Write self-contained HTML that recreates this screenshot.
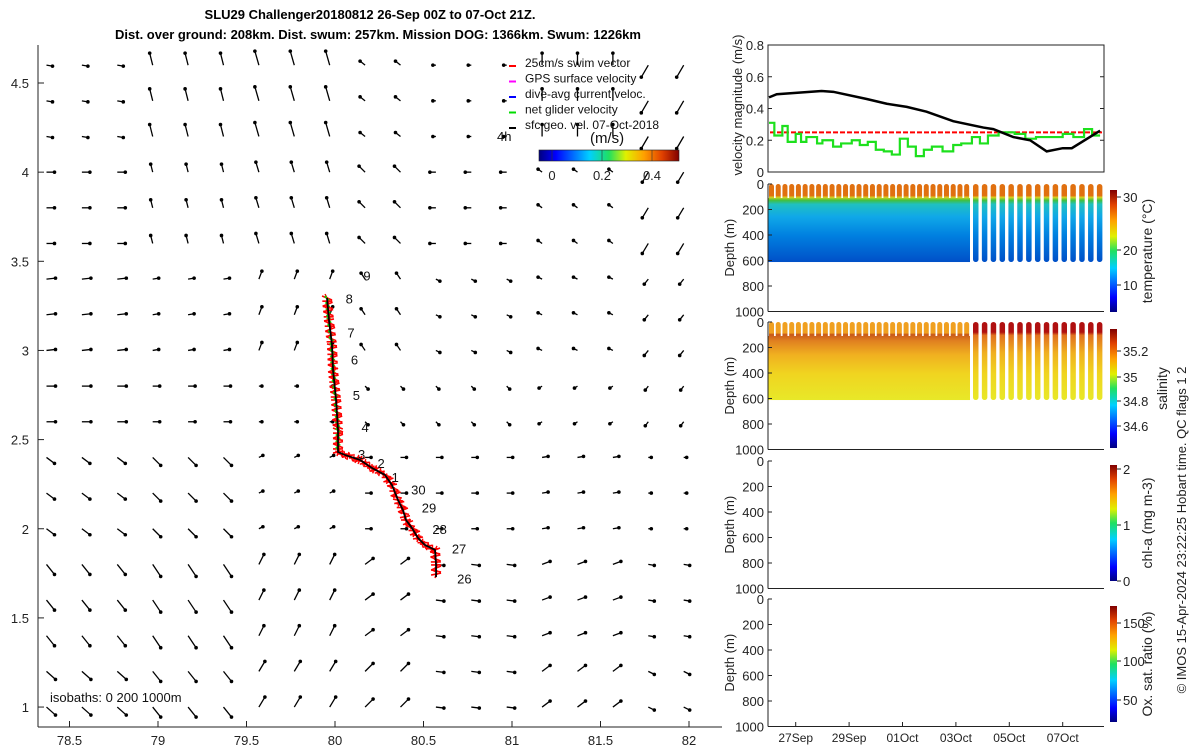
<!DOCTYPE html>
<html><head><meta charset="utf-8"><style>
body{margin:0;background:#fff;}
svg{display:block;font-family:"Liberation Sans","DejaVu Sans",sans-serif;}
</style></head><body>
<svg id="fig" width="1200" height="750" viewBox="0 0 1200 750">
<defs>
<linearGradient id="jetH" x1="0" x2="1" y1="0" y2="0">
<stop offset="0" stop-color="#00007f"/><stop offset="0.12" stop-color="#0000ff"/><stop offset="0.36" stop-color="#00d0ff"/><stop offset="0.5" stop-color="#20e060"/><stop offset="0.62" stop-color="#e0f000"/><stop offset="0.75" stop-color="#ffa000"/><stop offset="0.88" stop-color="#e04000"/><stop offset="1" stop-color="#800000"/></linearGradient>
<linearGradient id="jetV" x1="0" x2="0" y1="1" y2="0">
<stop offset="0" stop-color="#00007f"/><stop offset="0.12" stop-color="#0000ff"/><stop offset="0.36" stop-color="#00d0ff"/><stop offset="0.5" stop-color="#20e060"/><stop offset="0.62" stop-color="#e0f000"/><stop offset="0.75" stop-color="#ffa000"/><stop offset="0.88" stop-color="#e04000"/><stop offset="1" stop-color="#800000"/></linearGradient>
<linearGradient id="tempG" gradientUnits="userSpaceOnUse" x1="0" x2="0" y1="184" y2="262">
<stop offset="0" stop-color="#e07010"/><stop offset="0.15" stop-color="#e07010"/><stop offset="0.17" stop-color="#d8d020"/><stop offset="0.21" stop-color="#40c040"/><stop offset="0.26" stop-color="#20c0c0"/><stop offset="0.42" stop-color="#10a8e8"/><stop offset="0.66" stop-color="#0080e0"/><stop offset="1" stop-color="#0050c8"/></linearGradient>
<linearGradient id="salG" gradientUnits="userSpaceOnUse" x1="0" x2="0" y1="184" y2="262">
<stop offset="0" stop-color="#f0a020"/><stop offset="0.14" stop-color="#f0a020"/><stop offset="0.16" stop-color="#c85818"/><stop offset="0.24" stop-color="#e08020"/><stop offset="0.42" stop-color="#f0b020"/><stop offset="0.66" stop-color="#f0d420"/><stop offset="1" stop-color="#e8e828"/></linearGradient>
<linearGradient id="salG2" gradientUnits="userSpaceOnUse" x1="0" x2="0" y1="184" y2="262">
<stop offset="0" stop-color="#b01010"/><stop offset="0.13" stop-color="#b01010"/><stop offset="0.17" stop-color="#e07020"/><stop offset="0.4" stop-color="#f0b020"/><stop offset="0.66" stop-color="#f0d420"/><stop offset="1" stop-color="#e8e828"/></linearGradient>
</defs>

<text x="370" y="19" font-size="13" font-weight="bold" text-anchor="middle">SLU29 Challenger20180812 26-Sep 00Z to 07-Oct 21Z.</text>
<text x="378" y="39" font-size="13" font-weight="bold" text-anchor="middle">Dist. over ground: 208km. Dist. swum: 257km. Mission DOG: 1366km. Swum: 1226km</text>

<g id="map"></g>
<g id="right"></g>
</svg>
<script>
const NS="http://www.w3.org/2000/svg";
function mk(parent,tag,attrs,txt){const e=document.createElementNS(NS,tag);for(const k in attrs)e.setAttribute(k,attrs[k]);if(txt!==undefined)e.textContent=txt;parent.appendChild(e);return e;}

// ---------- MAP DATA ----------
const lonTicks=[78.5,79,79.5,80,80.5,81,81.5,82];
const latTicks=[1,1.5,2,2.5,3,3.5,4,4.5];
const trackLon=[79.955,79.966,79.983,79.989,80.006,80.017,80.017,80.056,80.141,80.209,80.282,80.322,80.356,80.384,80.401,80.435,80.469,80.508,80.565,80.571,80.571];
const trackLat=[3.294,3.171,3.031,2.890,2.722,2.554,2.430,2.414,2.386,2.341,2.302,2.245,2.161,2.105,2.049,2.004,1.948,1.909,1.881,1.797,1.729];
const dayLabels=["9","8","7","6","5","4","3","2","1","30","29","28","27","26"];
const dayLon=[80.16,80.06,80.07,80.09,80.10,80.15,80.13,80.24,80.32,80.43,80.49,80.55,80.66,80.69];
const dayLat=[3.42,3.29,3.10,2.95,2.75,2.57,2.42,2.37,2.29,2.22,2.12,2.00,1.89,1.72];
// coarse current field (u,v) in px, rows top->bottom, cols west->east
const fieldU=[[6,-3,-4,-5,-3,0,-7],[8,-2,-3,-6,-6,-4,-6],[9,6,3,-4,4,-4,-4],[9,7,3,3,3,-3,-3],[8,8,4,6,6,6,3],[8,8,5,8,8,8,6],[9,8,6,8,8,8,6]];
const fieldV=[[-1,12,14,4,0,12,-12],[0,8,10,6,0,3,-10],[1,1,8,6,-2,2,-5],[0,0,0,-3,-3,-2,-4],[-6,-8,2,0,0,1,0],[-10,-12,10,6,-1,3,-1],[-8,-10,10,8,-1,6,-3]];
const gridLon0=78.37, gridLat0=4.6, gridStep=0.2, nGrid=19;

const mx=lon=>335+(lon-80)*177;
const my=lat=>83+(4.5-lat)*178.3;
const map=document.getElementById('map');

mk(map,'line',{x1:38,y1:45,x2:38,y2:727,stroke:'#222','stroke-width':1});
mk(map,'line',{x1:38,y1:727,x2:722,y2:727,stroke:'#222','stroke-width':1});
lonTicks.forEach(v=>{const x=mx(v);
 const t=mk(map,'line',{x1:x,y1:727,x2:x,y2:721,stroke:'#222'});
 const l=mk(map,'text',{x:x,y:745,'font-size':13,'text-anchor':'middle',fill:'#222'},String(v));});
latTicks.forEach(v=>{const y=my(v);
 const t=mk(map,'line',{x1:38,y1:y,x2:44,y2:y,stroke:'#222'});
 const l=mk(map,'text',{x:29,y:y+5,'font-size':13,'text-anchor':'end',fill:'#222'},String(v));});

for(let r=0;r<nGrid;r++){for(let c=0;c<nGrid;c++){
 const lat=gridLat0-r*gridStep, lon=gridLon0+c*gridStep;
 const ri=Math.floor(r*7/nGrid), ci=Math.floor(c*7/nGrid);
 const u=fieldU[ri][ci], v=fieldV[ri][ci];
 const x=mx(lon), y=my(lat);
 const a=mk(map,'line',{x1:x,y1:y,x2:x+u,y2:y-v,stroke:'#000','stroke-width':1.3});
 
 const h=mk(map,'circle',{cx:x+u,cy:y-v,r:1.8,fill:'#000'});
 
}}

for(let i=0;i<trackLon.length-1;i++){
 const x0=mx(trackLon[i]),y0=my(trackLat[i]),x1=mx(trackLon[i+1]),y1=my(trackLat[i+1]);
 const n=Math.max(3,Math.round(Math.hypot(x1-x0,y1-y0)/3));
 for(let k=0;k<n;k++){const f=k/n,x=x0+(x1-x0)*f,y=y0+(y1-y0)*f;const s=((k*7+i*3)%5)-2;
  const c1=mk(map,'line',{x1:x-5,y1:y+s,x2:x+5,y2:y-s,stroke:'#f00','stroke-width':1.6});
  const c2=mk(map,'line',{x1:x+s,y1:y-4,x2:x-s,y2:y+4,stroke:'#f00','stroke-width':1.4});
  if(i<6&&k%2==0){const g=mk(map,'line',{x1:x-2,y1:y-2,x2:x+2,y2:y+3,stroke:'#0d0','stroke-width':2});}
 }}
const tp=trackLon.map((v,i)=>mx(v)+','+my(trackLat[i])).join(' ');
const tr=mk(map,'polyline',{points:tp,fill:'none',stroke:'#000','stroke-width':1.8});

dayLabels.forEach((d,i)=>{const t=mk(map,'text',{x:mx(dayLon[i]),y:my(dayLat[i])+5,'font-size':13,fill:'#111'},d);});

const leg=[["25cm/s swim vector","#f00"],["GPS surface velocity","#f0f"],["dive-avg current veloc.","#00f"],["net glider velocity","#0d0"],["sfc geo. vel. 07-Oct-2018","#000"]];
leg.forEach((e,i)=>{const y=62+i*15.5;
 const m=mk(map,'line',{x1:509,y1:y+4,x2:516,y2:y+4,stroke:e[1],'stroke-width':2});
 const t=mk(map,'text',{x:525,y:y+5,'font-size':12,fill:'#111'},e[0]);});
mk(map,'text',{x:497,y:141,'font-size':13,fill:'#111',},'4h');
mk(map,'text',{x:590,y:143,'font-size':15,fill:'#111',},'(m/s)');
mk(map,'rect',{x:539,y:150,width:140,height:11,fill:'url(#jetH)',stroke:'#222','stroke-width':0.6,});
[[0,552],[0.2,602],[0.4,652]].forEach(p=>{mk(map,'line',{x1:p[1],y1:150,x2:p[1],y2:161,stroke:'#333','stroke-width':0.6});
 const t=mk(map,'text',{x:p[1],y:180,'font-size':13,'text-anchor':'middle',fill:'#222'},String(p[0]));});
mk(map,'text',{x:50,y:702,'font-size':13,fill:'#111',},'isobaths: 0   200  1000m');

// ---------- RIGHT PANELS ----------
const velTicks=[0,0.2,0.4,0.6,0.8];
const blackT=[0,0.29,1.97,2.41,3.66,4.41,5.16,5.9,6.9,8.03,8.4,9.15,9.78,10.4,11.0,11.34,12.4];
const blackV=[0.47,0.49,0.51,0.505,0.46,0.43,0.41,0.38,0.32,0.28,0.27,0.22,0.20,0.13,0.15,0.15,0.26];
const greenT=[0,0.2,0.5,0.7,1.0,1.2,1.4,1.8,2.0,2.4,2.7,3.1,3.4,3.7,4.0,4.3,4.6,4.9,5.2,5.5,5.8,6.1,6.5,6.9,7.2,7.6,7.9,8.2,8.6,9.2,9.6,10.0,10.6,11.0,11.4,11.8,12.1,12.4];
const greenV=[0.31,0.23,0.29,0.19,0.24,0.19,0.22,0.18,0.20,0.16,0.18,0.20,0.17,0.19,0.14,0.13,0.11,0.21,0.16,0.10,0.14,0.16,0.13,0.17,0.18,0.22,0.18,0.23,0.25,0.24,0.21,0.22,0.22,0.24,0.22,0.27,0.23,0.23];
const swimSpeed=0.25;
const dateLabels=["27Sep","29Sep","01Oct","03Oct","05Oct","07Oct"];
const dateDays=[1,3,5,7,9,11];
const depthTicks=[0,200,400,600,800,1000];

const R=document.getElementById('right');
const X0=768,X1=1104;
const tx=d=>769+d*26.7;
const vy=v=>172-v/0.8*127;
mk(R,'rect',{x:X0,y:45,width:X1-X0,height:127,fill:'none',stroke:'#222',});
velTicks.forEach(v=>{mk(R,'line',{x1:X0,y1:vy(v),x2:X0+4,y2:vy(v),stroke:'#222'});mk(R,'line',{x1:X1,y1:vy(v),x2:X1-4,y2:vy(v),stroke:'#222'});
 const t=mk(R,'text',{x:764,y:vy(v)+5,'font-size':13,'text-anchor':'end',fill:'#222'},String(v));});
mk(R,'text',{x:0,y:0,'font-size':13,'text-anchor':'middle',fill:'#222',transform:'translate(742,105) rotate(-90)',},'velocity magnitude (m/s)');
const sw=mk(R,'line',{x1:X0+2,y1:vy(swimSpeed),x2:X1-2,y2:vy(swimSpeed),stroke:'#f00','stroke-width':2,'stroke-dasharray':'5 2'});

let gp='';greenT.forEach((t,i)=>{const x=tx(t),y=vy(greenV[i]);if(i==0)gp+=`M${x},${y}`;else gp+=`H${x}V${y}`;});gp+=`H${tx(12.4)}`;
const gl=mk(R,'path',{d:gp,fill:'none',stroke:'#1de01d','stroke-width':2.2});
const bl=mk(R,'polyline',{points:blackT.map((t,i)=>tx(t)+','+vy(blackV[i])).join(' '),fill:'none',stroke:'#000','stroke-width':2.5});


// sections (drawn in temp panel coordinates then translated)
[[0,'tempG','tempG'],[138,'salG','salG2']].forEach(s=>{
 const g=mk(R,'g',{transform:`translate(0,${s[0]})`});
 const dy=d=>184+d*0.1275;
 mk(g,'rect',{x:768,y:dy(110),width:202,height:dy(612)-dy(110),fill:`url(#${s[1]})`});
 for(let i=0;i<30;i++){mk(g,'rect',{x:769+i*6.73,y:dy(0),width:5,height:dy(130)-dy(0),rx:2.5,fill:`url(#${s[1]})`});}
 for(let i=0;i<15;i++){mk(g,'rect',{x:973+i*8.85,y:dy(0),width:5.5,height:dy(612)-dy(0),rx:2.7,fill:`url(#${s[2]})`});}
});

const panels=[{y0:184,name:'temperature',label:'temperature (°C)',cb:[190,312],cbt:[[30,197],[20,250],[10,285]],lx:1152},
 {y0:322,name:'salinity',label:'salinity',cb:[329,448],cbt:[[35.2,351],[35,377],[34.8,401],[34.6,426]],lx:1167},
 {y0:461,name:'chl-a',label:'chl-a (mg m-3)',cb:[465,581],cbt:[[2,469],[1,525],[0,581]],lx:1152},
 {y0:599,name:'oxygen',label:'Ox. sat. ratio (%)',cb:[606,722],cbt:[[150,623],[100,661],[50,700]],lx:1152}];
panels.forEach(p=>{
 const dy=d=>p.y0+d*0.1275;
 const ax=mk(R,'g',{});
 mk(ax,'line',{x1:X0,y1:p.y0,x2:X0,y2:dy(1000),stroke:'#222'});
 mk(ax,'line',{x1:X0,y1:dy(1000),x2:X1,y2:dy(1000),stroke:'#222'});
 depthTicks.forEach(d=>{mk(ax,'line',{x1:X0,y1:dy(d),x2:X0+4,y2:dy(d),stroke:'#222'});
  const t=mk(ax,'text',{x:764,y:dy(d)+5,'font-size':13,'text-anchor':'end',fill:'#222'},String(d));});
 mk(ax,'text',{x:0,y:0,'font-size':13,'text-anchor':'middle',fill:'#222',transform:`translate(734,${dy(500)}) rotate(-90)`,},'Depth (m)');
 mk(ax,'rect',{x:1110,y:p.cb[0],width:7,height:p.cb[1]-p.cb[0],fill:'url(#jetV)',});
 p.cbt.forEach(c=>{mk(ax,'line',{x1:1117,y1:c[1],x2:1121,y2:c[1],stroke:'#222'});
  const t=mk(ax,'text',{x:1123,y:c[1]+5,'font-size':13,fill:'#222'},String(c[0]));});
 mk(ax,'text',{x:0,y:0,'font-size':14,'text-anchor':'middle',fill:'#222',transform:`translate(${p.lx},${(p.cb[0]+p.cb[1])/2}) rotate(-90)`,},p.label);
});
mk(R,'text',{x:0,y:0,'font-size':13,'text-anchor':'middle',fill:'#222',transform:'translate(1186,530) rotate(-90)',},'© IMOS 15-Apr-2024 23:22:25 Hobart time. QC flags 1  2');
dateLabels.forEach((d,i)=>{const x=tx(dateDays[i]);mk(R,'line',{x1:x,y1:726,x2:x,y2:722,stroke:'#222'});
 const t=mk(R,'text',{x:x,y:742,'font-size':12,'text-anchor':'middle',fill:'#222'},d);});
</script>
</body></html>
